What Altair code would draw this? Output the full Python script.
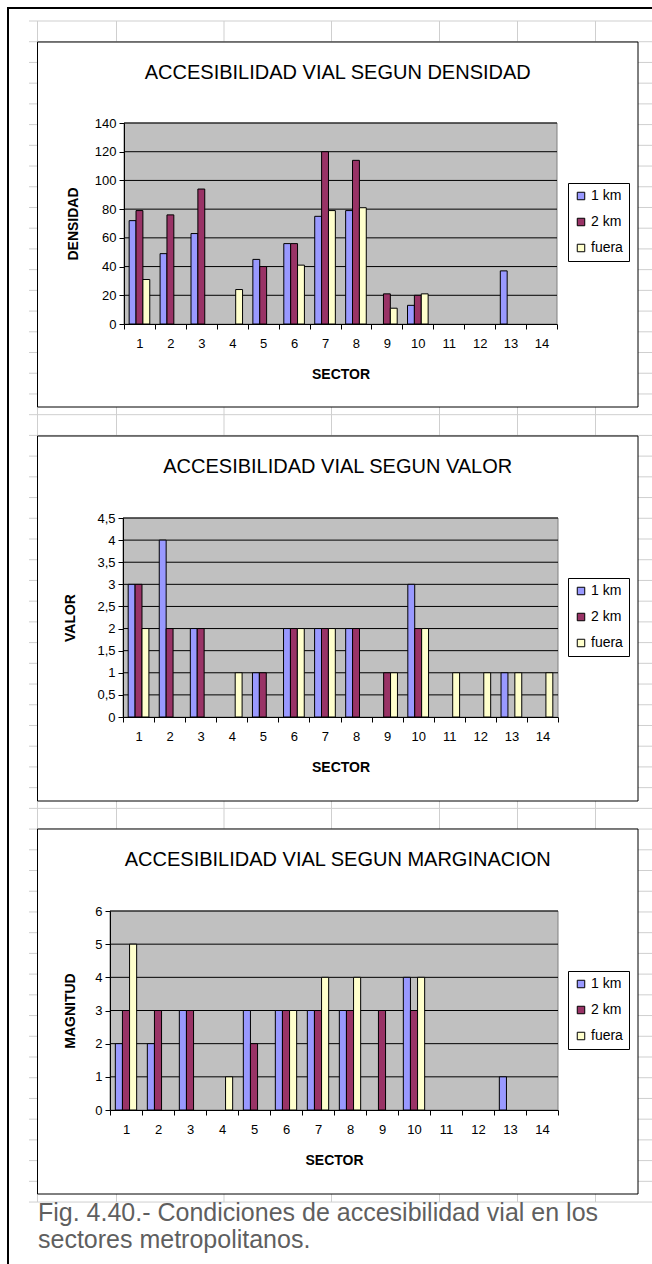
import altair as alt
import pandas as pd

W, H = 652, 1264

# ---- data -------------------------------------------------------------
sectors = list(range(1, 15))
series = ["1 km", "2 km", "fuera"]
series_colors = ["#9999FF", "#993366", "#FFFFCC"]

densidad_1km = [72, 49, 63, 0, 45, 56, 75, 79, 0, 13, 0, 0, 37, 0]
densidad_2km = [79, 76, 94, 0, 40, 56, 120, 114, 21, 20, 0, 0, 0, 0]
densidad_fuera = [31, 0, 0, 24, 0, 41, 79, 81, 11, 21, 0, 0, 0, 0]

valor_1km = [3, 4, 2, 0, 1, 2, 2, 2, 0, 3, 0, 0, 1, 0]
valor_2km = [3, 2, 2, 0, 1, 2, 2, 2, 1, 2, 0, 0, 0, 0]
valor_fuera = [2, 0, 0, 1, 0, 2, 2, 0, 1, 2, 1, 1, 1, 1]

magnitud_1km = [2, 2, 3, 0, 3, 3, 3, 3, 0, 4, 0, 0, 1, 0]
magnitud_2km = [3, 3, 3, 0, 2, 3, 3, 3, 3, 3, 0, 0, 0, 0]
magnitud_fuera = [5, 0, 0, 1, 0, 3, 4, 4, 0, 4, 0, 0, 0, 0]

densidad_ticks = [0, 20, 40, 60, 80, 100, 120, 140]
valor_ticks = [0, 0.5, 1, 1.5, 2, 2.5, 3, 3.5, 4, 4.5]
magnitud_ticks = [0, 1, 2, 3, 4, 5, 6]

caption_lines = ["Fig. 4.40.- Condiciones de accesibilidad vial en los",
                 "sectores metropolitanos."]

# ---- page layout (pixels) ---------------------------------------------
SANS = "Liberation Sans, Arial, sans-serif"
NARROW = "Liberation Sans Narrow, Arial Narrow, Liberation Sans, sans-serif"

FRAME_L, FRAME_R, FRAME_H = 37.5, 638, 365
ROW_Y0, ROW_H, ROW_N = 21, 20.72, 58
COL_X = [37.5, 116.5, 224, 331.5, 439.5, 517.5, 595.5]
SHEET_LEFT, SHEET_BOTTOM = 29, 1202
SHEET_GRID = "#cfcfcf"

one = pd.DataFrame({"k": [0]})

panels = [
    dict(title="ACCESIBILIDAD VIAL SEGUN DENSIDAD", axis_title="DENSIDAD",
         cols=[densidad_1km, densidad_2km, densidad_fuera], ticks=densidad_ticks,
         frame_top=42, left=124, right=557, top=123, bottom=324, axis_title_x=73),
    dict(title="ACCESIBILIDAD VIAL SEGUN VALOR", axis_title="VALOR",
         cols=[valor_1km, valor_2km, valor_fuera], ticks=valor_ticks,
         frame_top=436, left=123, right=558, top=518, bottom=717, axis_title_x=70),
    dict(title="ACCESIBILIDAD VIAL SEGUN MARGINACION", axis_title="MAGNITUD",
         cols=[magnitud_1km, magnitud_2km, magnitud_fuera], ticks=magnitud_ticks,
         frame_top=829, left=110, right=558, top=911, bottom=1110, axis_title_x=70),
]


def long_table(cols):
    rows = []
    for name, vals in zip(series, cols):
        for sec, v in zip(sectors, vals):
            rows.append({"sector": sec, "serie": name, "valor": v})
    return pd.DataFrame(rows)


# ---- worksheet background ----------------------------------------------
row_lines = pd.DataFrame({"y": [ROW_Y0 + ROW_H * k for k in range(ROW_N)]})
col_lines = pd.DataFrame({"x": COL_X})

sheet_rows = alt.Chart(row_lines).mark_rule(color=SHEET_GRID, strokeWidth=1).encode(
    y=alt.Y("y:Q", scale=None, axis=None),
    x=alt.value(SHEET_LEFT), x2=alt.value(W),
)
sheet_cols = alt.Chart(col_lines).mark_rule(color=SHEET_GRID, strokeWidth=1).encode(
    x=alt.X("x:Q", scale=None, axis=None),
    y=alt.value(ROW_Y0), y2=alt.value(SHEET_BOTTOM),
)
page_border = alt.Chart(one).mark_rect(fill=None, stroke="black", strokeWidth=2).encode(
    x=alt.value(8), x2=alt.value(W + 20), y=alt.value(8), y2=alt.value(H + 20),
)


def panel(p):
    ft = p["frame_top"]
    left, right, top, bottom = p["left"], p["right"], p["top"], p["bottom"]
    ticks = p["ticks"]

    frame = alt.Chart(one).mark_rect(fill="white", stroke="black", strokeWidth=1).encode(
        x=alt.value(FRAME_L), x2=alt.value(FRAME_R),
        y=alt.value(ft), y2=alt.value(ft + FRAME_H),
    )
    title = alt.Chart(one).mark_text(
        text=p["title"], font=SANS, fontSize=20, color="black",
        align="center", baseline="middle",
    ).encode(x=alt.value((FRAME_L + FRAME_R) / 2), y=alt.value(ft + 31))

    plot_bg = alt.Chart(one).mark_rect(fill="#C0C0C0", stroke="#808080", strokeWidth=1).encode(
        x=alt.value(left), x2=alt.value(right), y=alt.value(top), y2=alt.value(bottom),
    )

    yscale = alt.Scale(domain=[ticks[0], ticks[-1]], range=[bottom, top], nice=False, zero=True)
    xscale = alt.Scale(domain=sectors, range=[left, right], paddingInner=0, paddingOuter=0)

    yaxis = alt.Axis(
        orient="left", offset=-left, values=ticks,
        labelExpr="replace(format(datum.value, '~g'), '.', ',')",
        tickSize=5, tickColor="black", domainColor="black",
        labelFont=NARROW, labelFontSize=13, labelColor="black", labelPadding=3,
        labelFlush=False, labelOverlap=False,
        title=p["axis_title"], titleFont=NARROW, titleFontSize=14, titleFontWeight="bold",
        titleColor="black", titleX=p["axis_title_x"] - left, titleBaseline="middle",
        grid=False, zindex=1,
    )

    # horizontal gridlines at the axis tick values (same y scale and axis as the bars)
    grid = alt.Chart(pd.DataFrame({"valor": ticks[1:]})).mark_rule(
        color="black", strokeWidth=1
    ).encode(
        y=alt.Y("valor:Q", scale=yscale, axis=yaxis),
        x=alt.value(left), x2=alt.value(right),
    )

    bars = alt.Chart(long_table(p["cols"])).transform_filter(
        "datum.valor > 0"
    ).mark_bar(stroke="black", strokeWidth=1).encode(
        x=alt.X("sector:O", scale=xscale, axis=alt.Axis(
            orient="bottom", offset=-(H - bottom), tickBand="extent",
            tickSize=5, tickColor="black", domainColor="black", labelAngle=0,
            labelFont=NARROW, labelFontSize=13, labelColor="black", labelPadding=8,
            title="SECTOR", titleFont=NARROW, titleFontSize=14, titleFontWeight="bold",
            titleColor="black", titleY=50, titleBaseline="middle", grid=False, zindex=1,
        )),
        xOffset=alt.XOffset("serie:N", scale=alt.Scale(domain=series, paddingInner=0, paddingOuter=0.75)),
        y=alt.Y("valor:Q", scale=yscale, axis=yaxis),
        color=alt.Color("serie:N", scale=alt.Scale(domain=series, range=series_colors),
                        legend=alt.Legend(
                            title=None, orient="none", legendX=568, legendY=top + 60,
                            symbolType="square", symbolSize=56, symbolStrokeColor="black",
                            symbolStrokeWidth=1, labelFont=SANS, labelFontSize=14,
                            labelColor="black", labelOffset=3, padding=6, rowPadding=12,
                            strokeColor="black", fillColor="white", zindex=1,
                        )),
    )
    return alt.layer(frame, title, plot_bg, grid, bars)


caption = alt.Chart(one).mark_text(
    text=caption_lines, font=SANS, fontSize=25, color="#5f5f5f",
    align="left", baseline="middle", lineHeight=27,
).encode(x=alt.value(38), y=alt.value(1213))

chart = alt.layer(
    page_border, sheet_rows, sheet_cols,
    *[panel(p) for p in panels],
    caption,
).resolve_scale(
    x="independent", y="independent", xOffset="independent", color="independent",
).properties(
    width=W, height=H, autosize=alt.AutoSizeParams(type="none"), padding=0,
    background="white",
).configure_view(stroke=None)

chart.save("out.html", embed_options={"renderer": "svg", "actions": False})
